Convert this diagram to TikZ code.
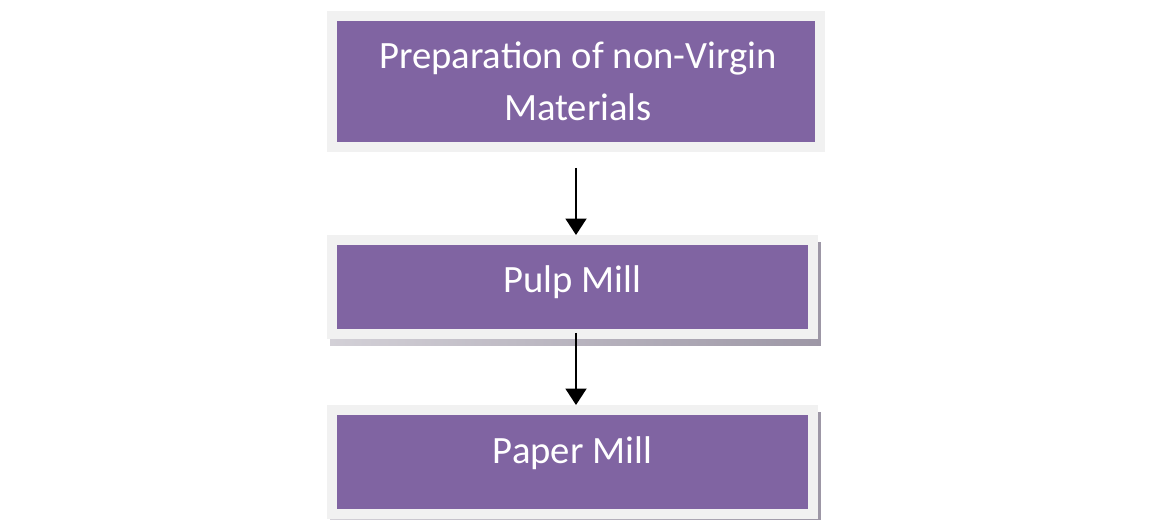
\documentclass[tikz,border=0pt]{standalone}
\usepackage{fontspec}
\setmainfont{Carlito}
\usepackage{xcolor}
\usetikzlibrary{arrows.meta}
\usetikzlibrary{backgrounds}
\usetikzlibrary{calc}

\definecolor{boxpurple}{HTML}{8064A2}
\definecolor{framegray}{HTML}{F1F1F1}
\definecolor{shadowgray}{HTML}{9D97A6}

\tikzset{
    stagebox/.style={fill=boxpurple, draw=framegray, line width=0.2cm,
        text=white, align=center, inner sep=0pt,
        font=\fontsize{22}{29.6}\selectfont},
    flow/.style={-{Triangle[width=0.42cm,length=0.33cm]}, line width=0.04cm, black},
}

\begin{document}
\begin{tikzpicture}[x=0.02cm,y=-0.02cm]
    \useasboundingbox (0,0) rectangle (1150,520);

    \node[stagebox, minimum width=9.76cm, minimum height=2.62cm] (prep) at (576,81.5)
        {\hspace*{0.08cm}Preparation of non-Virgin\\\hspace*{0.08cm}Materials};
    \node[stagebox, minimum width=9.62cm, minimum height=1.88cm, text depth=0.3cm] (pulp) at (572.5,287)
        {Pulp Mill};
    \node[stagebox, minimum width=9.62cm, minimum height=2.08cm, text depth=0.48cm] (paper) at (572.5,462)
        {Paper Mill};

    % drop shadows
    \begin{scope}[on background layer]
        \fill[white] (0,0) rectangle (1150,520);
        \shade[left color=shadowgray!45, right color=shadowgray]
            ($(pulp.south west)+(3,7)$) rectangle ($(pulp.north east)+(3,7)$);
        \shade[left color=shadowgray!45, right color=shadowgray]
            ($(paper.south west)+(3,7)$) rectangle ($(paper.north east)+(3,7)$);
    \end{scope}

    \draw[flow, shorten <=0.32cm] (prep.south) -- (prep.south |- pulp.north);
    \draw[flow, shorten <=-0.12cm] (pulp.south -| prep.south) -- (prep.south |- paper.north);
\end{tikzpicture}
\end{document}
